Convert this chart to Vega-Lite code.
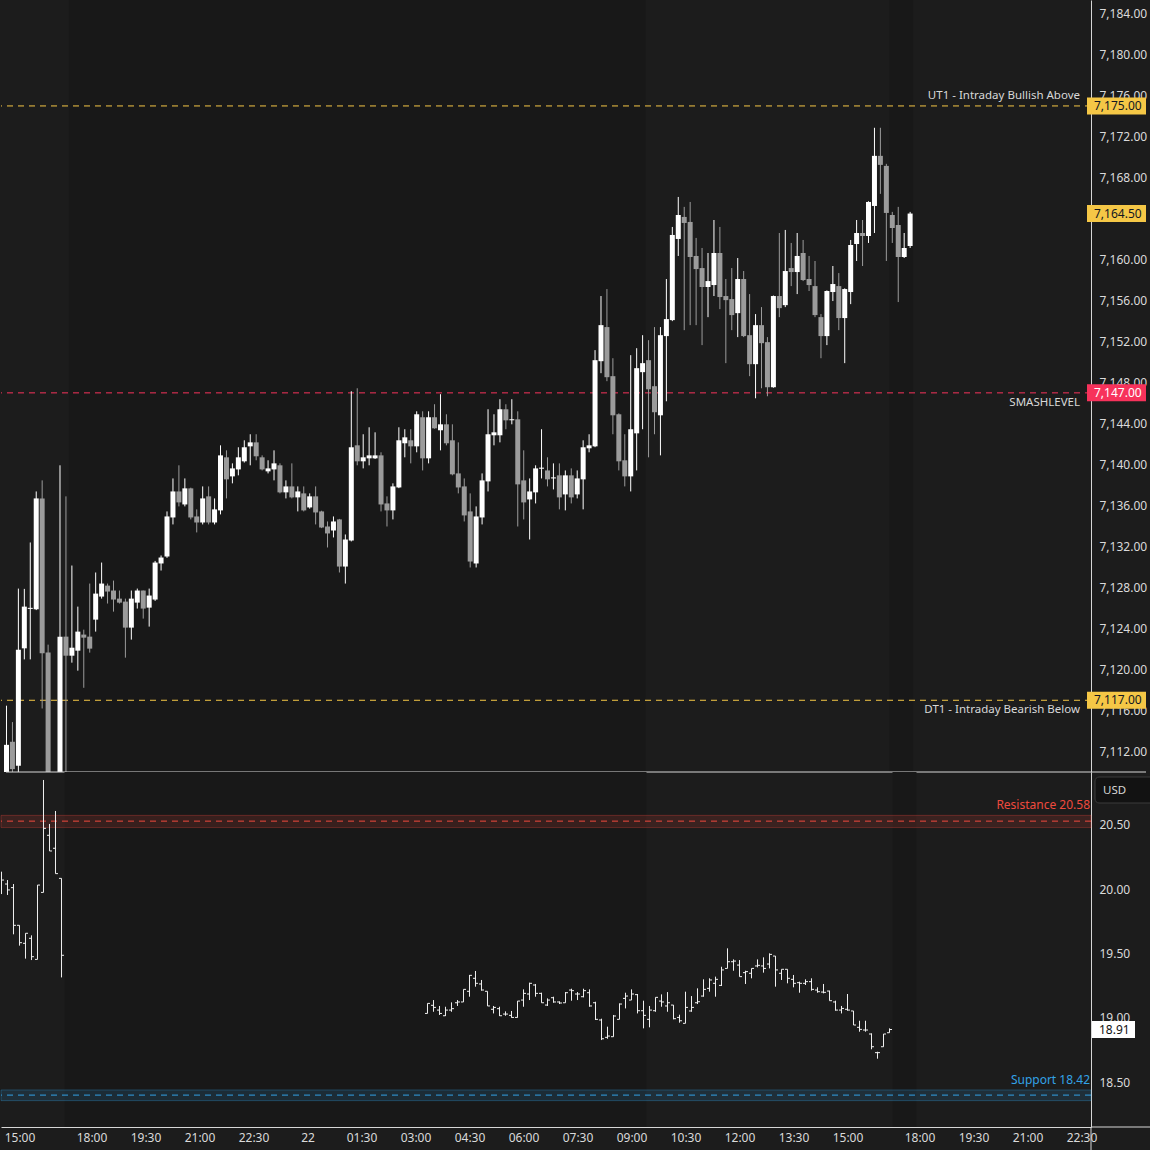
{
"$schema":"https://vega.github.io/schema/vega-lite/v6.json",
"padding":0,
"background":"#1c1c1c",
"spacing":0,
"bounds":"flush",
"resolve":{"scale":{"color":"independent","stroke":"independent"}},
"config":{
 "font":"Noto Sans",
 "view":{"stroke":null,"fill":null},
 "axis":{"grid":false,"ticks":false,"domainColor":"#d6d6d6","domainWidth":1,"labelColor":"#dadada","labelFont":"Noto Sans","labelFontSize":12,"labelOverlap":false,"labelFlush":false},
 "text":{"font":"Noto Sans","fontSize":12}
},
"datasets":{
 "eth":[{"a":7.5,"b":104.5},{"a":145.5,"b":149.5}],
 "levels":[{"p":7175,"kind":"UT1","name":"UT1 - Intraday Bullish Above"},{"p":7147,"kind":"SMASH","name":"SMASHLEVEL"},{"p":7117,"kind":"DT1","name":"DT1 - Intraday Bearish Below"}],
 "tags":[{"p":7175,"kind":"UT1"},{"p":7164.5,"kind":"LAST"},{"p":7147,"kind":"SMASH"},{"p":7117,"kind":"DT1"}],
 "zones":[{"zone":"Resistance","label":"Resistance 20.58","lo":20.48,"hi":20.575,"mid":20.53},{"zone":"Support","label":"Support 18.42","lo":18.357,"hi":18.44,"mid":18.4}],
 "one":[{"u":"USD"}],
 "es":[
{"i":-3,"o":7108,"h":7116.47,"l":7106,"c":7112.65},
{"i":-2,"o":7112.95,"h":7114.87,"l":7109.5,"c":7110.28},
{"i":-1,"o":7110.6,"h":7127.9,"l":7109,"c":7121.94},
{"i":0,"o":7122.07,"h":7127.87,"l":7120.99,"c":7126.14},
{"i":1,"o":7125.92,"h":7132.4,"l":7120.99,"c":7126.02},
{"i":2,"o":7125.88,"h":7137.38,"l":7125.8,"c":7136.7},
{"i":3,"o":7136.7,"h":7138.46,"l":7116.2,"c":7121.58},
{"i":4,"o":7121.65,"h":7122.43,"l":7102,"c":7104.5},
{"i":5,"o":7104.5,"h":7109,"l":7100.5,"c":7106.5},
{"i":6,"o":7106.5,"h":7139.93,"l":7105,"c":7123.21},
{"i":7,"o":7123.21,"h":7136.9,"l":7108,"c":7121.35},
{"i":8,"o":7121.35,"h":7130.15,"l":7120.67,"c":7122.13},
{"i":9,"o":7121.84,"h":7126.14,"l":7119.89,"c":7123.7},
{"i":10,"o":7123.41,"h":7123.89,"l":7118.22,"c":7123.11},
{"i":11,"o":7123.21,"h":7128.39,"l":7121.65,"c":7122.04},
{"i":12,"o":7124.87,"h":7129.47,"l":7123.7,"c":7127.41},
{"i":13,"o":7127.12,"h":7130.44,"l":7126.92,"c":7128.39},
{"i":14,"o":7128.19,"h":7128.39,"l":7126.44,"c":7127.61},
{"i":15,"o":7127.71,"h":7128.68,"l":7125.65,"c":7126.83},
{"i":16,"o":7126.92,"h":7127.71,"l":7126.44,"c":7126.53},
{"i":17,"o":7126.63,"h":7126.92,"l":7121.16,"c":7124.09},
{"i":18,"o":7124.09,"h":7127.71,"l":7122.92,"c":7126.92},
{"i":19,"o":7126.53,"h":7127.9,"l":7125.95,"c":7127.71},
{"i":20,"o":7127.71,"h":7127.71,"l":7124.97,"c":7125.95},
{"i":21,"o":7126.04,"h":7127.9,"l":7124.19,"c":7127.22},
{"i":22,"o":7126.83,"h":7130.6,"l":7126.7,"c":7130.44},
{"i":23,"o":7130.35,"h":7131.13,"l":7129.66,"c":7130.93},
{"i":24,"o":7131.03,"h":7135.43,"l":7130.9,"c":7134.94},
{"i":25,"o":7134.84,"h":7138.65,"l":7134.16,"c":7137.38},
{"i":26,"o":7137.38,"h":7139.93,"l":7135.92,"c":7136.31},
{"i":27,"o":7136.11,"h":7138.65,"l":7135.92,"c":7137.68},
{"i":28,"o":7137.68,"h":7137.75,"l":7134.65,"c":7134.84},
{"i":29,"o":7134.94,"h":7135.63,"l":7133.38,"c":7134.35},
{"i":30,"o":7134.35,"h":7137.87,"l":7134.16,"c":7136.7},
{"i":31,"o":7136.9,"h":7137.87,"l":7134.16,"c":7134.35},
{"i":32,"o":7134.35,"h":7136.7,"l":7134.16,"c":7135.63},
{"i":33,"o":7135.53,"h":7141.88,"l":7135.14,"c":7140.9},
{"i":34,"o":7140.71,"h":7141.39,"l":7136.7,"c":7138.56},
{"i":35,"o":7138.85,"h":7140.12,"l":7138.17,"c":7139.63},
{"i":36,"o":7139.53,"h":7141.69,"l":7138.95,"c":7140.71},
{"i":37,"o":7140.32,"h":7142.37,"l":7140.2,"c":7141.69},
{"i":38,"o":7141.78,"h":7142.96,"l":7139.93,"c":7142.17},
{"i":39,"o":7142.17,"h":7142.96,"l":7140.42,"c":7140.81},
{"i":40,"o":7140.71,"h":7140.9,"l":7139.43,"c":7139.53},
{"i":41,"o":7139.34,"h":7140.42,"l":7139.14,"c":7139.63},
{"i":42,"o":7139.53,"h":7141.39,"l":7138.46,"c":7140.12},
{"i":43,"o":7139.93,"h":7140.12,"l":7137.19,"c":7137.29},
{"i":44,"o":7137.29,"h":7138.46,"l":7136.7,"c":7137.87},
{"i":45,"o":7137.87,"h":7140.12,"l":7136.7,"c":7136.8},
{"i":46,"o":7136.8,"h":7137.87,"l":7135.43,"c":7137.38},
{"i":47,"o":7137.19,"h":7137.87,"l":7135.43,"c":7135.53},
{"i":48,"o":7135.82,"h":7137.19,"l":7135.7,"c":7136.9},
{"i":49,"o":7136.9,"h":7137.87,"l":7134.16,"c":7135.33},
{"i":50,"o":7135.43,"h":7135.5,"l":7133.8,"c":7133.86},
{"i":51,"o":7133.96,"h":7134.45,"l":7131.91,"c":7133.28},
{"i":52,"o":7133.57,"h":7134.94,"l":7132.89,"c":7134.45},
{"i":53,"o":7134.65,"h":7134.7,"l":7129.47,"c":7130.05},
{"i":54,"o":7130.05,"h":7133.18,"l":7128.39,"c":7132.69},
{"i":55,"o":7132.59,"h":7147.16,"l":7132.5,"c":7141.69},
{"i":56,"o":7141.88,"h":7147.45,"l":7139.93,"c":7140.32},
{"i":57,"o":7140.32,"h":7142.96,"l":7139.63,"c":7140.71},
{"i":58,"o":7140.61,"h":7143.64,"l":7139.93,"c":7140.9},
{"i":59,"o":7140.61,"h":7143.15,"l":7140.55,"c":7140.9},
{"i":60,"o":7140.9,"h":7141.2,"l":7135.43,"c":7136.11},
{"i":61,"o":7136.21,"h":7136.9,"l":7133.96,"c":7135.53},
{"i":62,"o":7135.53,"h":7138.17,"l":7134.65,"c":7137.87},
{"i":63,"o":7137.77,"h":7143.64,"l":7137.7,"c":7142.37},
{"i":64,"o":7142.08,"h":7143.45,"l":7140.71,"c":7142.66},
{"i":65,"o":7142.37,"h":7143.45,"l":7140.12,"c":7141.78},
{"i":66,"o":7141.78,"h":7145.2,"l":7141.2,"c":7144.91},
{"i":67,"o":7144.62,"h":7145.2,"l":7139.43,"c":7140.61},
{"i":68,"o":7140.61,"h":7145.2,"l":7140.12,"c":7144.62},
{"i":69,"o":7144.62,"h":7145.89,"l":7143.5,"c":7143.54},
{"i":70,"o":7143.35,"h":7146.87,"l":7141.39,"c":7143.93},
{"i":71,"o":7143.93,"h":7144.91,"l":7141.88,"c":7142.08},
{"i":72,"o":7142.37,"h":7143.93,"l":7138.95,"c":7139.05},
{"i":73,"o":7139.14,"h":7142.17,"l":7137.19,"c":7137.77},
{"i":74,"o":7137.87,"h":7138.65,"l":7134.45,"c":7135.04},
{"i":75,"o":7135.43,"h":7137.19,"l":7129.96,"c":7130.54},
{"i":76,"o":7130.35,"h":7135.92,"l":7129.96,"c":7134.94},
{"i":77,"o":7134.84,"h":7139.14,"l":7134.16,"c":7138.46},
{"i":78,"o":7138.36,"h":7145.4,"l":7137.38,"c":7142.96},
{"i":79,"o":7142.86,"h":7144.91,"l":7141.88,"c":7143.15},
{"i":80,"o":7142.86,"h":7146.38,"l":7142.17,"c":7145.4},
{"i":81,"o":7145.4,"h":7145.89,"l":7143.45,"c":7144.32},
{"i":82,"o":7144.32,"h":7146.38,"l":7143.93,"c":7144.42},
{"i":83,"o":7144.42,"h":7145.2,"l":7133.96,"c":7138.07},
{"i":84,"o":7138.46,"h":7141.39,"l":7134.65,"c":7136.31},
{"i":85,"o":7136.6,"h":7138.65,"l":7132.69,"c":7137.38},
{"i":86,"o":7137.29,"h":7139.93,"l":7136.21,"c":7139.63},
{"i":87,"o":7139.6,"h":7143.45,"l":7138.65,"c":7139.7},
{"i":88,"o":7139.43,"h":7140.71,"l":7137.87,"c":7138.56},
{"i":89,"o":7138.65,"h":7140.12,"l":7137.58,"c":7138.75},
{"i":90,"o":7138.95,"h":7140.12,"l":7135.63,"c":7136.8},
{"i":91,"o":7137.09,"h":7139.43,"l":7135.53,"c":7138.95},
{"i":92,"o":7138.95,"h":7139.63,"l":7136.21,"c":7136.8},
{"i":93,"o":7137.09,"h":7139.43,"l":7136.7,"c":7138.65},
{"i":94,"o":7138.56,"h":7142.37,"l":7135.63,"c":7141.69},
{"i":95,"o":7141.59,"h":7142.96,"l":7141.2,"c":7141.88},
{"i":96,"o":7141.78,"h":7151.17,"l":7141.7,"c":7150.19},
{"i":97,"o":7150.09,"h":7156.45,"l":7148.92,"c":7153.61},
{"i":98,"o":7153.42,"h":7157.13,"l":7148.14,"c":7148.53},
{"i":99,"o":7148.63,"h":7150.38,"l":7142.96,"c":7144.81},
{"i":100,"o":7144.91,"h":7145,"l":7139.43,"c":7140.32},
{"i":101,"o":7140.42,"h":7142.96,"l":7137.87,"c":7138.85},
{"i":102,"o":7138.85,"h":7150.68,"l":7137.38,"c":7143.45},
{"i":103,"o":7143.05,"h":7151.36,"l":7139.43,"c":7149.41},
{"i":104,"o":7149.02,"h":7152.63,"l":7143.45,"c":7149.9},
{"i":105,"o":7150.19,"h":7152.14,"l":7140.71,"c":7147.35},
{"i":106,"o":7147.65,"h":7153.42,"l":7142.96,"c":7145.11},
{"i":107,"o":7144.81,"h":7153.42,"l":7140.9,"c":7152.63},
{"i":108,"o":7152.54,"h":7158.11,"l":7146.18,"c":7154.2},
{"i":109,"o":7154.1,"h":7163.19,"l":7154,"c":7162.41},
{"i":110,"o":7162.02,"h":7166.12,"l":7160.36,"c":7164.36},
{"i":111,"o":7164.17,"h":7165.15,"l":7153.12,"c":7163.58},
{"i":112,"o":7163.68,"h":7165.63,"l":7153.61,"c":7160.26},
{"i":113,"o":7160.36,"h":7162.12,"l":7153.61,"c":7159.08},
{"i":114,"o":7159.18,"h":7161.14,"l":7151.66,"c":7157.33},
{"i":115,"o":7157.33,"h":7160.65,"l":7154.39,"c":7157.91},
{"i":116,"o":7157.52,"h":7163.87,"l":7156.45,"c":7160.65},
{"i":117,"o":7160.65,"h":7163.19,"l":7155.17,"c":7156.35},
{"i":118,"o":7156.45,"h":7158.11,"l":7149.9,"c":7156.05},
{"i":119,"o":7156.15,"h":7159.18,"l":7153.12,"c":7154.59},
{"i":120,"o":7154.78,"h":7160.16,"l":7152.44,"c":7158.11},
{"i":121,"o":7158.11,"h":7158.89,"l":7152.44,"c":7152.54},
{"i":122,"o":7152.63,"h":7156.64,"l":7148.63,"c":7149.8},
{"i":123,"o":7149.8,"h":7154.69,"l":7146.47,"c":7153.61},
{"i":124,"o":7153.61,"h":7155.37,"l":7147.45,"c":7151.85},
{"i":125,"o":7151.95,"h":7152.44,"l":7146.67,"c":7147.55},
{"i":126,"o":7147.55,"h":7156.5,"l":7147.5,"c":7156.45},
{"i":127,"o":7156.45,"h":7162.6,"l":7154.39,"c":7155.27},
{"i":128,"o":7155.56,"h":7162.9,"l":7155.37,"c":7158.89},
{"i":129,"o":7159.18,"h":7161.63,"l":7157.42,"c":7158.79},
{"i":130,"o":7158.79,"h":7162.6,"l":7156.64,"c":7160.36},
{"i":131,"o":7160.65,"h":7161.92,"l":7157.91,"c":7158.01},
{"i":132,"o":7158.11,"h":7160.36,"l":7156.94,"c":7157.52},
{"i":133,"o":7157.42,"h":7159.87,"l":7154.39,"c":7154.59},
{"i":134,"o":7154.39,"h":7154.69,"l":7150.38,"c":7152.54},
{"i":135,"o":7152.54,"h":7157,"l":7151.66,"c":7156.94},
{"i":136,"o":7156.84,"h":7159.38,"l":7155.96,"c":7157.62},
{"i":137,"o":7157.42,"h":7158.69,"l":7153.12,"c":7154.3},
{"i":138,"o":7154.3,"h":7157.2,"l":7149.9,"c":7157.13},
{"i":139,"o":7156.84,"h":7161.92,"l":7155.66,"c":7161.43},
{"i":140,"o":7161.53,"h":7163.87,"l":7159.87,"c":7162.6},
{"i":141,"o":7162.6,"h":7163.87,"l":7159.38,"c":7162.31},
{"i":142,"o":7162.31,"h":7165.7,"l":7161.63,"c":7165.63},
{"i":143,"o":7165.24,"h":7172.87,"l":7162.6,"c":7170.13},
{"i":144,"o":7170.13,"h":7172.87,"l":7166.42,"c":7169.25},
{"i":145,"o":7169.15,"h":7169.35,"l":7159.87,"c":7164.56},
{"i":146,"o":7164.36,"h":7164.66,"l":7161.63,"c":7163.09},
{"i":147,"o":7163.38,"h":7165.15,"l":7155.86,"c":7160.26},
{"i":148,"o":7160.26,"h":7162.6,"l":7160.16,"c":7161.14},
{"i":149,"o":7161.33,"h":7164.66,"l":7161.14,"c":7164.5}
 ],
 "vix":[
{"i":-3,"o":20.1,"h":20.137,"l":19.963,"c":20.072},
{"i":-2,"o":20.041,"h":20.072,"l":19.956,"c":19.995},
{"i":-1,"o":20.013,"h":20.041,"l":19.65,"c":19.72},
{"i":0,"o":19.72,"h":19.72,"l":19.562,"c":19.585},
{"i":1,"o":19.58,"h":19.658,"l":19.461,"c":19.658},
{"i":2,"o":19.619,"h":19.642,"l":19.45,"c":19.476},
{"i":3,"o":19.455,"h":20.033,"l":19.455,"c":20.033},
{"i":4,"o":19.976,"h":20.85,"l":19.976,"c":20.474},
{"i":5,"o":20.42,"h":20.508,"l":20.298,"c":20.298},
{"i":6,"o":20.319,"h":20.609,"l":20.122,"c":20.122},
{"i":7,"o":20.085,"h":20.085,"l":19.315,"c":19.487},
{"i":68,"o":19.035,"h":19.113,"l":19.035,"c":19.113},
{"i":69,"o":19.098,"h":19.139,"l":19.048,"c":19.082},
{"i":70,"o":19.061,"h":19.093,"l":19.023,"c":19.035},
{"i":71,"o":19.017,"h":19.087,"l":19.015,"c":19.061},
{"i":72,"o":19.061,"h":19.121,"l":19.048,"c":19.072},
{"i":73,"o":19.118,"h":19.139,"l":19.093,"c":19.124},
{"i":74,"o":19.124,"h":19.222,"l":19.124,"c":19.222},
{"i":75,"o":19.207,"h":19.334,"l":19.165,"c":19.331},
{"i":76,"o":19.308,"h":19.365,"l":19.243,"c":19.269},
{"i":77,"o":19.264,"h":19.295,"l":19.212,"c":19.217},
{"i":78,"o":19.207,"h":19.207,"l":19.093,"c":19.093},
{"i":79,"o":19.067,"h":19.093,"l":19.035,"c":19.082},
{"i":80,"o":19.072,"h":19.087,"l":19.015,"c":19.017},
{"i":81,"o":19.03,"h":19.051,"l":19.017,"c":19.03},
{"i":82,"o":19.02,"h":19.054,"l":19.002,"c":19.004},
{"i":83,"o":19.004,"h":19.131,"l":19.002,"c":19.131},
{"i":84,"o":19.139,"h":19.222,"l":19.087,"c":19.191},
{"i":85,"o":19.186,"h":19.274,"l":19.139,"c":19.269},
{"i":86,"o":19.256,"h":19.264,"l":19.165,"c":19.191},
{"i":87,"o":19.191,"h":19.196,"l":19.118,"c":19.118},
{"i":88,"o":19.1,"h":19.152,"l":19.093,"c":19.139},
{"i":89,"o":19.157,"h":19.165,"l":19.118,"c":19.124},
{"i":90,"o":19.124,"h":19.129,"l":19.108,"c":19.116},
{"i":91,"o":19.118,"h":19.201,"l":19.118,"c":19.196},
{"i":92,"o":19.217,"h":19.227,"l":19.134,"c":19.212},
{"i":93,"o":19.186,"h":19.201,"l":19.139,"c":19.186},
{"i":94,"o":19.165,"h":19.227,"l":19.16,"c":19.212},
{"i":95,"o":19.196,"h":19.222,"l":19.087,"c":19.093},
{"i":96,"o":19.118,"h":19.126,"l":18.984,"c":18.989},
{"i":97,"o":18.984,"h":18.994,"l":18.828,"c":18.838},
{"i":98,"o":18.849,"h":18.932,"l":18.838,"c":18.859},
{"i":99,"o":18.854,"h":19.023,"l":18.854,"c":19.015},
{"i":100,"o":18.989,"h":19.113,"l":18.989,"c":19.108},
{"i":101,"o":19.152,"h":19.196,"l":19.074,"c":19.17},
{"i":102,"o":19.139,"h":19.222,"l":19.139,"c":19.186},
{"i":103,"o":19.181,"h":19.186,"l":19.035,"c":19.056},
{"i":104,"o":19.056,"h":19.134,"l":18.919,"c":19.02},
{"i":105,"o":18.989,"h":19.093,"l":18.927,"c":19.061},
{"i":106,"o":19.056,"h":19.16,"l":19.048,"c":19.16},
{"i":107,"o":19.131,"h":19.183,"l":19.087,"c":19.124},
{"i":108,"o":19.093,"h":19.201,"l":19.048,"c":19.118},
{"i":109,"o":19.1,"h":19.1,"l":18.989,"c":18.994},
{"i":110,"o":19.004,"h":19.025,"l":18.963,"c":18.978},
{"i":111,"o":18.958,"h":19.204,"l":18.958,"c":19.082},
{"i":112,"o":19.054,"h":19.17,"l":19.048,"c":19.082},
{"i":113,"o":19.118,"h":19.23,"l":19.108,"c":19.126},
{"i":114,"o":19.17,"h":19.3,"l":19.165,"c":19.222},
{"i":115,"o":19.23,"h":19.308,"l":19.204,"c":19.295},
{"i":116,"o":19.269,"h":19.321,"l":19.165,"c":19.3},
{"i":117,"o":19.253,"h":19.398,"l":19.248,"c":19.373},
{"i":118,"o":19.385,"h":19.541,"l":19.385,"c":19.437},
{"i":119,"o":19.437,"h":19.455,"l":19.367,"c":19.442},
{"i":120,"o":19.411,"h":19.45,"l":19.321,"c":19.321},
{"i":121,"o":19.352,"h":19.367,"l":19.264,"c":19.36},
{"i":122,"o":19.347,"h":19.385,"l":19.308,"c":19.385},
{"i":123,"o":19.404,"h":19.455,"l":19.393,"c":19.409},
{"i":124,"o":19.404,"h":19.471,"l":19.352,"c":19.385},
{"i":125,"o":19.419,"h":19.502,"l":19.385,"c":19.494},
{"i":126,"o":19.481,"h":19.481,"l":19.243,"c":19.373},
{"i":127,"o":19.347,"h":19.378,"l":19.295,"c":19.378},
{"i":128,"o":19.378,"h":19.378,"l":19.269,"c":19.308},
{"i":129,"o":19.3,"h":19.334,"l":19.238,"c":19.269},
{"i":130,"o":19.274,"h":19.282,"l":19.196,"c":19.269},
{"i":131,"o":19.269,"h":19.3,"l":19.256,"c":19.282},
{"i":132,"o":19.282,"h":19.308,"l":19.212,"c":19.222},
{"i":133,"o":19.217,"h":19.238,"l":19.196,"c":19.204},
{"i":134,"o":19.201,"h":19.264,"l":19.191,"c":19.199},
{"i":135,"o":19.209,"h":19.212,"l":19.134,"c":19.134},
{"i":136,"o":19.124,"h":19.134,"l":19.056,"c":19.061},
{"i":137,"o":19.061,"h":19.093,"l":19.035,"c":19.074},
{"i":138,"o":19.067,"h":19.186,"l":19.056,"c":19.061},
{"i":139,"o":19.054,"h":19.054,"l":18.945,"c":18.945},
{"i":140,"o":18.927,"h":18.978,"l":18.893,"c":18.911},
{"i":141,"o":18.906,"h":18.978,"l":18.893,"c":18.906},
{"i":142,"o":18.875,"h":18.88,"l":18.756,"c":18.776},
{"i":143,"o":18.73,"h":18.737,"l":18.683,"c":18.73},
{"i":144,"o":18.776,"h":18.875,"l":18.776,"c":18.875},
{"i":145,"o":18.885,"h":18.919,"l":18.885,"c":18.91}
 ]
},
"vconcat":[
 {
  "width":1090,"height":772,
  "layer":[
   {"data":{"name":"eth"},"mark":{"type":"rect","color":"#181818"},
    "encoding":{"x":{"field":"a","type":"quantitative","scale":{"domain":[-3.0833,178.5833],"nice":false,"zero":false},"axis":null,"title":null},"x2":{"field":"b"}}},
   {"data":{"name":"levels"},"mark":{"type":"rule","strokeDash":[6,5],"strokeWidth":1},
    "encoding":{"y":{"field":"p","type":"quantitative","title":null,"scale":{"domain":[7110,7185.34],"nice":false,"zero":false},
       "axis":{"orient":"right","values":[7112,7116,7120,7124,7128,7132,7136,7140,7144,7148,7152,7156,7160,7168,7172,7176,7180,7184],"format":",.2f","labelPadding":8,"domain":true,"title":null}},
     "color":{"field":"kind","type":"nominal","scale":{"domain":["UT1","LAST","SMASH","DT1"],"range":["#f5c746","#f5c746","#f7325b","#f5c746"]},"legend":null}}},
   {"data":{"name":"levels"},"transform":[{"filter":"datum.kind == 'UT1'"}],
    "mark":{"type":"text","align":"right","baseline":"middle","dx":-6,"dy":-10,"color":"#d8d8d8","fontSize":11.5},
    "encoding":{"x":{"datum":178.5833,"type":"quantitative","scale":{"domain":[-3.0833,178.5833],"nice":false,"zero":false},"axis":null,"title":null},
     "y":{"field":"p","type":"quantitative","title":null,"scale":{"domain":[7110,7185.34],"nice":false,"zero":false}},"text":{"field":"name"}}},
   {"data":{"name":"levels"},"transform":[{"filter":"datum.kind != 'UT1'"}],
    "mark":{"type":"text","align":"right","baseline":"middle","dx":-6,"dy":10,"color":"#d8d8d8","fontSize":11.5},
    "encoding":{"x":{"datum":178.5833,"type":"quantitative","scale":{"domain":[-3.0833,178.5833],"nice":false,"zero":false},"axis":null,"title":null},
     "y":{"field":"p","type":"quantitative","title":null,"scale":{"domain":[7110,7185.34],"nice":false,"zero":false}},"text":{"field":"name"}}},
   {"data":{"name":"es"},"mark":{"type":"rule","strokeWidth":1,"clip":true},
    "encoding":{"x":{"field":"i","type":"quantitative","scale":{"domain":[-3.0833,178.5833],"nice":false,"zero":false},"axis":null,"title":null},
     "y":{"field":"l","type":"quantitative","title":null,"scale":{"domain":[7110,7185.34],"nice":false,"zero":false}},"y2":{"field":"h"},
     "color":{"condition":{"test":"datum.c >= datum.o","value":"#ffffff"},"value":"#9b9b9b"}}},
   {"data":{"name":"es"},"mark":{"type":"bar","size":5,"clip":true},
    "encoding":{"x":{"field":"i","type":"quantitative","scale":{"domain":[-3.0833,178.5833],"nice":false,"zero":false},"axis":null,"title":null},
     "y":{"field":"o","type":"quantitative","title":null,"scale":{"domain":[7110,7185.34],"nice":false,"zero":false}},"y2":{"field":"c"},
     "color":{"condition":{"test":"datum.c >= datum.o","value":"#ffffff"},"value":"#9b9b9b"}}},
   {"data":{"name":"one"},"mark":{"type":"rule","color":"#d6d6d6","strokeWidth":1,"x2Offset":60},
    "encoding":{"x":{"datum":-3.0833,"type":"quantitative","scale":{"domain":[-3.0833,178.5833],"nice":false,"zero":false},"axis":null,"title":null},"x2":{"datum":178.5833},
     "y":{"datum":7110,"type":"quantitative","title":null,"scale":{"domain":[7110,7185.34],"nice":false,"zero":false}}}},
   {"data":{"name":"tags"},"mark":{"type":"rect","xOffset":1,"x2Offset":60,"yOffset":-8.5,"y2Offset":8.5},
    "encoding":{"x":{"datum":178.5833,"type":"quantitative","scale":{"domain":[-3.0833,178.5833],"nice":false,"zero":false},"axis":null,"title":null},"x2":{"datum":178.5833},
     "y":{"field":"p","type":"quantitative","title":null,"scale":{"domain":[7110,7185.34],"nice":false,"zero":false}},"y2":{"field":"p"},
     "color":{"field":"kind","type":"nominal","scale":{"domain":["UT1","LAST","SMASH","DT1"],"range":["#f5c746","#f5c746","#f7325b","#f5c746"]},"legend":null}}},
   {"data":{"name":"tags"},"mark":{"type":"text","align":"left","baseline":"middle","dx":8,"fontSize":12},
    "encoding":{"x":{"datum":178.5833,"type":"quantitative","scale":{"domain":[-3.0833,178.5833],"nice":false,"zero":false},"axis":null,"title":null},
     "y":{"field":"p","type":"quantitative","title":null,"scale":{"domain":[7110,7185.34],"nice":false,"zero":false}},
     "text":{"field":"p","type":"quantitative","format":",.2f"},
     "color":{"condition":{"test":"datum.kind == 'SMASH'","value":"#ffffff"},"value":"#131722"}}}
  ]
 },
 {
  "width":1090,"height":355,
  "layer":[
   {"data":{"name":"eth"},"mark":{"type":"rect","color":"#181818"},
    "encoding":{"x":{"field":"a","type":"quantitative","title":null,"scale":{"domain":[-3.0833,178.5833],"nice":false,"zero":false},
      "axis":{"orient":"bottom","values":[0,12,21,30,39,48,57,66,75,84,93,102,111,120,129,138,150,159,168,177],"labelPadding":5,"domain":true,"title":null,
       "labelExpr":"datum.value==0?'15:00':datum.value==12?'18:00':datum.value==21?'19:30':datum.value==30?'21:00':datum.value==39?'22:30':datum.value==48?'22':datum.value==57?'01:30':datum.value==66?'03:00':datum.value==75?'04:30':datum.value==84?'06:00':datum.value==93?'07:30':datum.value==102?'09:00':datum.value==111?'10:30':datum.value==120?'12:00':datum.value==129?'13:30':datum.value==138?'15:00':datum.value==150?'18:00':datum.value==159?'19:30':datum.value==168?'21:00':datum.value==177?'22:30':''"}},
     "x2":{"field":"b"}}},
   {"data":{"name":"zones"},"mark":{"type":"rect","fillOpacity":0.15,"strokeOpacity":0.3,"strokeWidth":1},
    "encoding":{"y":{"field":"lo","type":"quantitative","title":null,"scale":{"domain":[18.152,20.912],"nice":false,"zero":false},
       "axis":{"orient":"right","values":[18.5,19,19.5,20,20.5],"format":".2f","labelPadding":8,"domain":true,"title":null}},"y2":{"field":"hi"},
     "color":{"field":"zone","type":"nominal","scale":{"domain":["Resistance","Support"],"range":["#ef4a3e","#33a2e6"]},"legend":null},
     "stroke":{"field":"zone","type":"nominal","scale":{"domain":["Resistance","Support"],"range":["#ef4a3e","#33a2e6"]},"legend":null}}},
   {"data":{"name":"zones"},"mark":{"type":"rule","strokeDash":[6,5],"strokeWidth":1},
    "encoding":{"y":{"field":"mid","type":"quantitative","title":null,"scale":{"domain":[18.152,20.912],"nice":false,"zero":false}},
     "color":{"field":"zone","type":"nominal","scale":{"domain":["Resistance","Support"],"range":["#ef4a3e","#33a2e6"]},"legend":null}}},
   {"data":{"name":"zones"},"mark":{"type":"text","align":"right","baseline":"middle","dx":-1,"dy":-10,"fontSize":12},
    "encoding":{"x":{"datum":178.5833,"type":"quantitative","title":null,"scale":{"domain":[-3.0833,178.5833],"nice":false,"zero":false}},
     "y":{"field":"hi","type":"quantitative","title":null,"scale":{"domain":[18.152,20.912],"nice":false,"zero":false}},"text":{"field":"label"},
     "color":{"field":"zone","type":"nominal","scale":{"domain":["Resistance","Support"],"range":["#ef4a3e","#33a2e6"]},"legend":null}}},
   {"data":{"name":"vix"},"mark":{"type":"rule","strokeWidth":1,"color":"#f0f0f0","clip":true},
    "encoding":{"x":{"field":"i","type":"quantitative","title":null,"scale":{"domain":[-3.0833,178.5833],"nice":false,"zero":false}},
     "y":{"field":"l","type":"quantitative","title":null,"scale":{"domain":[18.152,20.912],"nice":false,"zero":false}},"y2":{"field":"h"}}},
   {"data":{"name":"vix"},"mark":{"type":"rule","strokeWidth":1,"color":"#f0f0f0","clip":true,"xOffset":-2.5,"x2Offset":0},
    "encoding":{"x":{"field":"i","type":"quantitative","title":null,"scale":{"domain":[-3.0833,178.5833],"nice":false,"zero":false}},"x2":{"field":"i"},
     "y":{"field":"o","type":"quantitative","title":null,"scale":{"domain":[18.152,20.912],"nice":false,"zero":false}}}},
   {"data":{"name":"vix"},"mark":{"type":"rule","strokeWidth":1,"color":"#f0f0f0","clip":true,"xOffset":0,"x2Offset":2.5},
    "encoding":{"x":{"field":"i","type":"quantitative","title":null,"scale":{"domain":[-3.0833,178.5833],"nice":false,"zero":false}},"x2":{"field":"i"},
     "y":{"field":"c","type":"quantitative","title":null,"scale":{"domain":[18.152,20.912],"nice":false,"zero":false}}}},
   {"data":{"name":"vix"},"transform":[{"filter":"datum.i == 145"}],"mark":{"type":"rect","color":"#ffffff","xOffset":1,"x2Offset":44,"yOffset":-8.5,"y2Offset":8.5},
    "encoding":{"x":{"datum":178.5833,"type":"quantitative","title":null,"scale":{"domain":[-3.0833,178.5833],"nice":false,"zero":false}},"x2":{"datum":178.5833},
     "y":{"field":"c","type":"quantitative","title":null,"scale":{"domain":[18.152,20.912],"nice":false,"zero":false}},"y2":{"field":"c"}}},
   {"data":{"name":"vix"},"transform":[{"filter":"datum.i == 145"}],"mark":{"type":"text","align":"left","baseline":"middle","dx":8,"fontSize":12,"color":"#131313"},
    "encoding":{"x":{"datum":178.5833,"type":"quantitative","title":null,"scale":{"domain":[-3.0833,178.5833],"nice":false,"zero":false}},
     "y":{"field":"c","type":"quantitative","title":null,"scale":{"domain":[18.152,20.912],"nice":false,"zero":false}},"text":{"field":"c","type":"quantitative","format":".2f"}}},
   {"data":{"name":"one"},"mark":{"type":"rect","color":"#121212","stroke":"#3a3a3a","strokeWidth":1,"cornerRadius":4,"xOffset":4,"x2Offset":64,"yOffset":5,"y2Offset":31},
    "encoding":{"x":{"datum":178.5833,"type":"quantitative","title":null,"scale":{"domain":[-3.0833,178.5833],"nice":false,"zero":false}},"x2":{"datum":178.5833},
     "y":{"datum":20.912,"type":"quantitative","title":null,"scale":{"domain":[18.152,20.912],"nice":false,"zero":false}},"y2":{"datum":20.912}}},
   {"data":{"name":"one"},"mark":{"type":"text","align":"left","baseline":"middle","dx":12,"dy":18.5,"fontSize":11.5,"color":"#d6d6d6"},
    "encoding":{"x":{"datum":178.5833,"type":"quantitative","title":null,"scale":{"domain":[-3.0833,178.5833],"nice":false,"zero":false}},
     "y":{"datum":20.912,"type":"quantitative","title":null,"scale":{"domain":[18.152,20.912],"nice":false,"zero":false}},"text":{"field":"u"}}},
   {"data":{"name":"one"},"mark":{"type":"rule","color":"#d6d6d6","strokeWidth":1,"x2Offset":60},
    "encoding":{"x":{"datum":178.5833,"type":"quantitative","title":null,"scale":{"domain":[-3.0833,178.5833],"nice":false,"zero":false}},"x2":{"datum":178.5833},
     "y":{"datum":18.152,"type":"quantitative","title":null,"scale":{"domain":[18.152,20.912],"nice":false,"zero":false}}}},
   {"data":{"name":"one"},"mark":{"type":"rule","color":"#d6d6d6","strokeWidth":1,"y2Offset":23},
    "encoding":{"x":{"datum":178.5833,"type":"quantitative","title":null,"scale":{"domain":[-3.0833,178.5833],"nice":false,"zero":false}},
     "y":{"datum":18.152,"type":"quantitative","title":null,"scale":{"domain":[18.152,20.912],"nice":false,"zero":false}},"y2":{"datum":18.152}}}
  ]
 }
]
}
